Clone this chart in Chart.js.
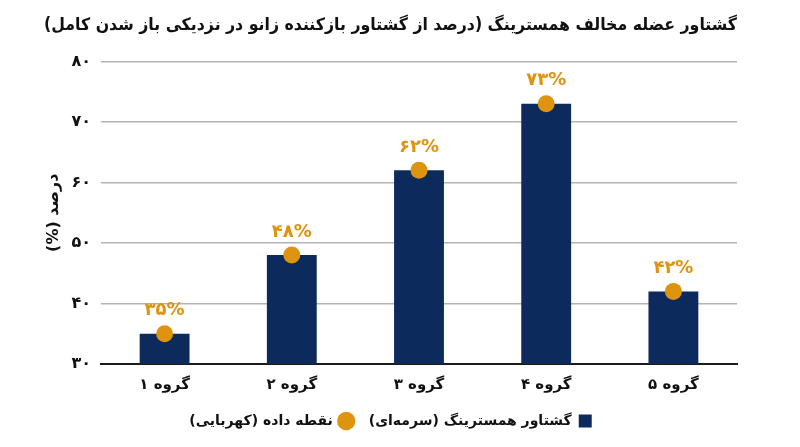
<!DOCTYPE html>
<html lang="fa">
<head>
<meta charset="utf-8">
<script src="https://cdn.jsdelivr.net/npm/chart.js@4"></script>
<style>
  html, body { margin: 0; padding: 0; background: #fff; }
  #wrap { width: 800px; height: 447px; }
</style>
</head>
<body>
<div id="wrap"><canvas id="c_hamstring" dir="rtl"></canvas></div>
<script>
const categories = ['گروه ۱', 'گروه ۲', 'گروه ۳', 'گروه ۴', 'گروه ۵'];
const torqueValues = [35, 48, 62, 73, 42];
const pointValues = [35, 48, 62, 73, 42];
const pointLabels = ['۳۵%', '۴۸%', '۶۲%', '۷۳%', '۴۲%'];
const yTicks = [30, 40, 50, 60, 70, 80];

const NAVY = '#0c2a5b';
const AMBER = '#df940f';
const FONT = "'DejaVu Sans', sans-serif";

function faDigits(n) {
    return String(n).replace(/[0-9]/g, d => '۰۱۲۳۴۵۶۷۸۹'[d]);
}

// labels above the amber points
const pointLabelPlugin = {
    id: 'pointLabels',
    afterDatasetsDraw(chart) {
        const meta = chart.getDatasetMeta(1);
        const ctx = chart.ctx;
        ctx.save();
        ctx.direction = 'ltr';
        ctx.font = 'bold 18px ' + FONT;
        ctx.fillStyle = AMBER;
        ctx.textAlign = 'center';
        ctx.textBaseline = 'middle';
        meta.data.forEach((pt, i) => {
            ctx.fillText(pointLabels[i], pt.x, pt.y - 23);
        });
        ctx.restore();
    }
};

const c_hamstring = document.getElementById('c_hamstring');

var hamstring_data = {
    type: 'bar',
    data: {
        labels: categories,
        datasets: [
            {
                label: 'گشتاور همسترینگ (سرمه‌ای)',
                data: torqueValues,
                backgroundColor: NAVY,
                borderWidth: 0,
                categoryPercentage: 0.8,
                barPercentage: 0.49,
                pointStyle: 'rect',
                order: 1
            },
            {
                type: 'line',
                label: 'نقطه داده (کهربایی)',
                data: pointValues,
                showLine: false,
                pointRadius: 8.5,
                pointHoverRadius: 8.5,
                pointBackgroundColor: AMBER,
                pointBorderWidth: 0,
                backgroundColor: AMBER,
                borderColor: AMBER,
                pointStyle: 'circle',
                order: 0
            }
        ]
    },
    options: {
        responsive: true,
        maintainAspectRatio: false,
        animation: false,
        layout: {
            padding: { left: 44, right: 63, top: 12, bottom: 9 }
        },
        plugins: {
            title: {
                display: true,
                text: 'گشتاور عضله مخالف همسترینگ (درصد از گشتاور بازکننده زانو در نزدیکی باز شدن کامل)',
                color: '#111',
                font: { family: FONT, size: 17, weight: 'bold' },
                padding: { top: 3, bottom: 26 }
            },
            legend: {
                position: 'bottom',
                rtl: true,
                textDirection: 'rtl',
                labels: {
                    sort: (a, b) => a.datasetIndex - b.datasetIndex,
                    usePointStyle: true,
                    boxWidth: 13,
                    boxHeight: 13,
                    padding: 16,
                    color: '#111',
                    font: { family: FONT, size: 14, weight: 'bold' }
                }
            },
            tooltip: { enabled: false }
        },
        scales: {
            x: {
                grid: { display: false },
                border: { display: true, color: '#1a1a1a', width: 2 },
                ticks: {
                    color: '#111',
                    padding: 4,
                    font: { family: FONT, size: 15, weight: 'bold' }
                }
            },
            y: {
                min: 30,
                max: 80,
                afterBuildTicks: (scale) => {
                    scale.ticks = yTicks.map(v => ({ value: v }));
                },
                afterFit: (scale) => {
                    scale.width = 57;
                },
                grid: { color: '#b3b3b3', lineWidth: 1.5, drawTicks: false },
                border: { display: false },
                ticks: {
                    color: '#111',
                    padding: 10,
                    font: { family: FONT, size: 16, weight: 'bold' },
                    callback: (v) => faDigits(v)
                },
                title: {
                    display: true,
                    text: 'درصد (%)',
                    color: '#111',
                    font: { family: FONT, size: 16, weight: 'bold' },
                    padding: { top: 0, bottom: 0 }
                }
            }
        }
    },
    plugins: [pointLabelPlugin]
};

var chart_hamstring = new Chart(c_hamstring, hamstring_data);
</script>
</body>
</html>
